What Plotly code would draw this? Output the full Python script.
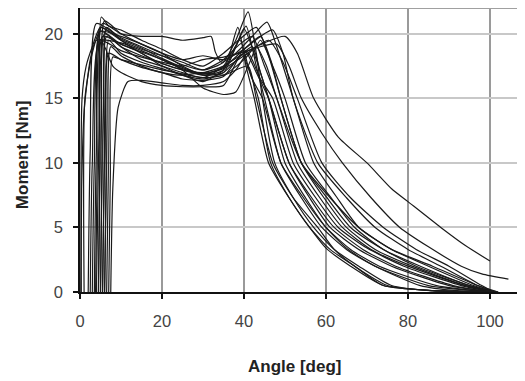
import plotly.graph_objects as go

# ---- data (angle [deg], moment [Nm]) ----
c01_x = [0.3, 0.5, 1.5, 3, 5, 10, 15, 20, 25, 30, 35, 38, 41, 43, 44.5, 47.5, 52, 57, 62, 68, 76, 86, 100]
c01_y = [0, 15, 17.5, 19, 20.5, 19.5, 18.8, 18.3, 17.8, 17.2, 17.8, 19.5, 21.7, 18.5, 15, 10, 7.3, 5, 3.3, 2, 0.5, 0.1, 0]
c02_x = [1.0, 1.2, 3, 4.9, 10, 15, 20, 25, 30, 35, 38, 40, 43, 46, 51, 56, 61, 68, 76, 90, 101]
c02_y = [0, 15, 18.5, 20.2, 19.8, 19.2, 18.5, 17.5, 16.8, 17, 19, 20.4, 18, 15, 10, 7.3, 5, 3.3, 2, 0.5, 0]
c03_x = [4.5, 4.9, 5.2, 7, 10, 15, 20, 25, 30, 35, 39, 43, 46, 49, 54, 60, 66, 74, 82, 95, 101]
c03_y = [0, 12, 21.3, 20.6, 20.3, 19.5, 18.8, 18, 17.5, 18.5, 19.6, 20.5, 18.3, 15, 10, 7.4, 5, 3.3, 2, 0.5, 0]
c04_x = [3.5, 4, 5.5, 10, 15, 20, 25, 30, 32, 33, 34.5, 38, 42, 45.6, 48, 52, 57, 62.5, 68, 76, 85, 96, 101]
c04_y = [0, 11, 20.8, 20, 19.8, 19.8, 19.5, 19.7, 19.8, 18.6, 17.8, 18.5, 19.8, 20.9, 19, 15, 10, 7.4, 5, 3.3, 2, 0.5, 0]
c05_x = [5, 5.4, 6, 10, 15, 20, 25, 30, 35, 39, 41, 43.5, 46.5, 51, 56, 60, 66, 74, 86, 100]
c05_y = [0, 10, 20, 19, 18, 17.5, 17, 16.6, 17.5, 19.5, 17.5, 15, 10, 7.3, 5, 3.4, 2, 0.5, 0.1, 0]
c06_x = [6, 6.4, 7, 10, 15, 20, 25, 30, 35, 42, 44, 46, 50, 55, 60, 65, 72, 85, 101]
c06_y = [0, 9, 19.5, 18.5, 17.8, 17.3, 16.8, 16.5, 17, 19, 17, 15, 10, 7.3, 5, 3.4, 2, 0.5, 0]
c07_x = [7.5, 8, 9.3, 11.7, 15, 20, 25, 30, 35, 38, 41, 44, 47, 52, 57.5, 63, 70, 79, 93, 101]
c07_y = [0, 8, 14.3, 16.3, 16.4, 16.2, 16, 16, 16.3, 17.2, 18.5, 16.5, 15, 10, 7.3, 5, 3.4, 2, 0.5, 0]
c08_x = [4, 4.5, 5.5, 8, 10, 15, 20, 25, 30, 35, 40, 43, 46, 51, 56.5, 62, 69, 77, 91, 100]
c08_y = [0, 10, 19.3, 17.5, 17, 16.3, 16, 15.9, 15.9, 16, 18.8, 17, 15, 10, 7.3, 5, 3.3, 2, 0.5, 0]
c09_x = [2.5, 3, 4.8, 10, 15, 20, 25, 30, 35, 40, 44, 48, 51, 54, 59, 64, 71, 78, 85, 93, 98, 104.5]
c09_y = [0, 10, 19.5, 18.7, 18.2, 17.8, 17.5, 18, 18.2, 18.6, 19, 19.2, 17.5, 15, 12.3, 10, 7.3, 5, 3.5, 2, 1.4, 1.0]
c10_x = [5.5, 6, 6.5, 10, 15, 20, 25, 30, 35, 40, 45, 50, 53, 57, 63, 70, 76, 80, 88, 94, 100]
c10_y = [0, 11, 20.5, 19.5, 18.5, 17.7, 17.2, 17, 17.5, 18.5, 19.3, 19.8, 18.5, 15, 12, 10, 8, 7, 5, 3.6, 2.4]
c11_x = [3, 3.5, 5, 10, 15, 20, 25, 30, 35, 38, 41, 44, 47, 50, 55, 61, 67, 74, 83, 95, 101]
c11_y = [0, 10, 20.2, 19.2, 18.6, 18, 17.2, 15.8, 15.3, 15.5, 17.5, 19.5, 17.5, 15, 10, 7.4, 5, 3.3, 2, 0.5, 0]
c12_x = [6.5, 6.9, 7.5, 10, 15, 20, 25, 30, 35, 41, 43, 47, 52, 58, 62, 67, 75, 86, 100]
c12_y = [0, 9, 19, 18.3, 17.5, 17, 16.8, 17, 16.8, 17.5, 15, 10, 7.3, 5, 3.3, 2, 0.5, 0.1, 0]
c13_x = [5, 5.4, 6, 10, 15, 20, 25, 30, 35, 40, 44, 47, 49.5, 52, 58, 65, 72, 80, 88, 97, 101]
c13_y = [0, 11, 21, 20, 19.2, 18.5, 18, 18.3, 18, 18.8, 19.8, 20.3, 18.5, 15, 10, 7.3, 5, 3.3, 2, 0.5, 0]
c14_x = [4.5, 4.9, 5.5, 10, 15, 20, 25, 30, 35, 38, 40.5, 43, 45, 49, 54, 59, 65, 72, 83, 92, 100]
c14_y = [0, 10, 19.8, 19.2, 18.5, 17.5, 16.8, 16.3, 17.2, 19, 20.6, 17.5, 15, 10, 7.3, 5, 3.3, 2, 0.5, 0.1, 0]
c15_x = [2, 2.5, 4, 10, 15, 20, 25, 30, 35, 39, 42, 45, 48, 53, 58.5, 64, 71, 80, 94, 102]
c15_y = [0, 11, 20.8, 19.7, 19, 18.3, 17.6, 17.2, 18, 19.2, 19.8, 17.5, 15, 10, 7.3, 5, 3.3, 2, 0.5, 0]
c16_x = [6, 6.4, 7, 10, 15, 20, 25, 30, 35, 39.5, 42, 44.5, 49, 54.5, 60, 66, 73, 87, 100]
c16_y = [0, 9, 18.5, 18, 17.4, 17, 16.5, 16.4, 16.7, 18.4, 16.5, 15, 10, 7.3, 5, 3.3, 2, 0.5, 0]
c17_x = [3.8, 4.2, 5, 10, 15, 20, 25, 30, 35, 40, 46, 49.5, 53, 59, 66, 74, 82, 90, 98, 101]
c17_y = [0, 10, 20.5, 19.6, 18.9, 18.1, 17.4, 16.9, 17.3, 18.3, 19.5, 17.8, 15, 10, 7.3, 5, 3.3, 2, 0.5, 0]
c18_x = [5.5, 5.9, 6.5, 10, 15, 20, 25, 30, 35, 38.5, 40.5, 42.5, 46, 51, 56, 61, 67, 74, 86, 100]
c18_y = [0, 10, 19.8, 19, 18.3, 17.7, 17.2, 16.8, 17.2, 20.5, 17.5, 15, 10, 7.3, 5, 3.3, 2, 0.5, 0.1, 0]
c19_x = [0.2, 0.4, 1, 2.5, 4, 10, 15, 20, 25, 30, 35, 40, 44, 46.5, 49, 54, 59.5, 65, 72, 81, 94, 101]
c19_y = [0, 8, 14, 18, 19.5, 19.3, 18.7, 18, 17.3, 16.9, 17.4, 18.8, 19.8, 18, 15, 10, 7.3, 5, 3.3, 2, 0.5, 0]
c20_x = [7, 7.4, 8, 10, 15, 20, 25, 30, 35, 40, 43, 45.5, 48, 54, 61, 68, 76, 86, 97, 102]
c20_y = [0, 9, 18.2, 18, 17.6, 17.2, 16.9, 16.6, 16.8, 18, 19, 17.5, 15, 10, 7.3, 5, 3.3, 2, 0.5, 0]

x_ticks = [0, 20, 40, 60, 80, 100]
y_ticks = [0, 5, 10, 15, 20]
x_title = "Angle [deg]"
y_title = "Moment [Nm]"

curves = [
    (c01_x, c01_y), (c02_x, c02_y), (c03_x, c03_y), (c04_x, c04_y), (c05_x, c05_y),
    (c06_x, c06_y), (c07_x, c07_y), (c08_x, c08_y), (c09_x, c09_y), (c10_x, c10_y),
    (c11_x, c11_y), (c12_x, c12_y), (c13_x, c13_y), (c14_x, c14_y), (c15_x, c15_y),
    (c16_x, c16_y), (c17_x, c17_y), (c18_x, c18_y), (c19_x, c19_y), (c20_x, c20_y),
]

fig = go.Figure()
for cx, cy in curves:
    fig.add_trace(go.Scatter(
        x=cx, y=cy, mode="lines",
        line=dict(color="#1a1a1a", width=1.2, shape="spline", smoothing=0.6),
        showlegend=False, hoverinfo="skip"))

font_family = "Liberation Sans, Arial, sans-serif"
axis_common = dict(
    showgrid=True, gridwidth=1.5, zeroline=False,
    showline=True, linecolor="#111", linewidth=1.5,
    ticks="outside", ticklen=5, tickcolor="#111", tickwidth=1.5,
    tickfont=dict(size=16.5, color="#444"), automargin=False,
)
# the page body adds an 8px offset, so the figure is sized to fit the 525x381 window
fig.update_layout(
    width=517, height=373,
    margin=dict(l=72, r=1, t=0, b=89),
    paper_bgcolor="white", plot_bgcolor="white",
    font=dict(family=font_family, size=16, color="#444"),
    xaxis=dict(range=[0, 108.3], tickvals=x_ticks, ticktext=[str(v) for v in x_ticks],
               gridcolor="#9a9a9a", ticklabelstandoff=8, **axis_common),
    yaxis=dict(range=[0, 22.0], tickvals=y_ticks, ticktext=[str(v) for v in y_ticks],
               gridcolor="#c8c8c8", ticklabelstandoff=7, **axis_common),
    shapes=[dict(type="line", xref="paper", yref="paper", x0=0, x1=1, y0=1, y1=1,
                 line=dict(color="#a0a0a0", width=2))],
    annotations=[
        dict(text="<b>" + x_title + "</b>", xref="paper", yref="paper",
             x=0.484, y=-0.2606, xanchor="center", yanchor="middle", showarrow=False,
             font=dict(size=17, color="#222", family=font_family)),
        dict(text="<b>" + y_title + "</b>", xref="paper", yref="paper",
             x=-0.1306, y=0.482, xanchor="center", yanchor="middle", showarrow=False,
             textangle=-90, font=dict(size=17, color="#222", family=font_family)),
    ],
)

fig.write_html("out.html")
